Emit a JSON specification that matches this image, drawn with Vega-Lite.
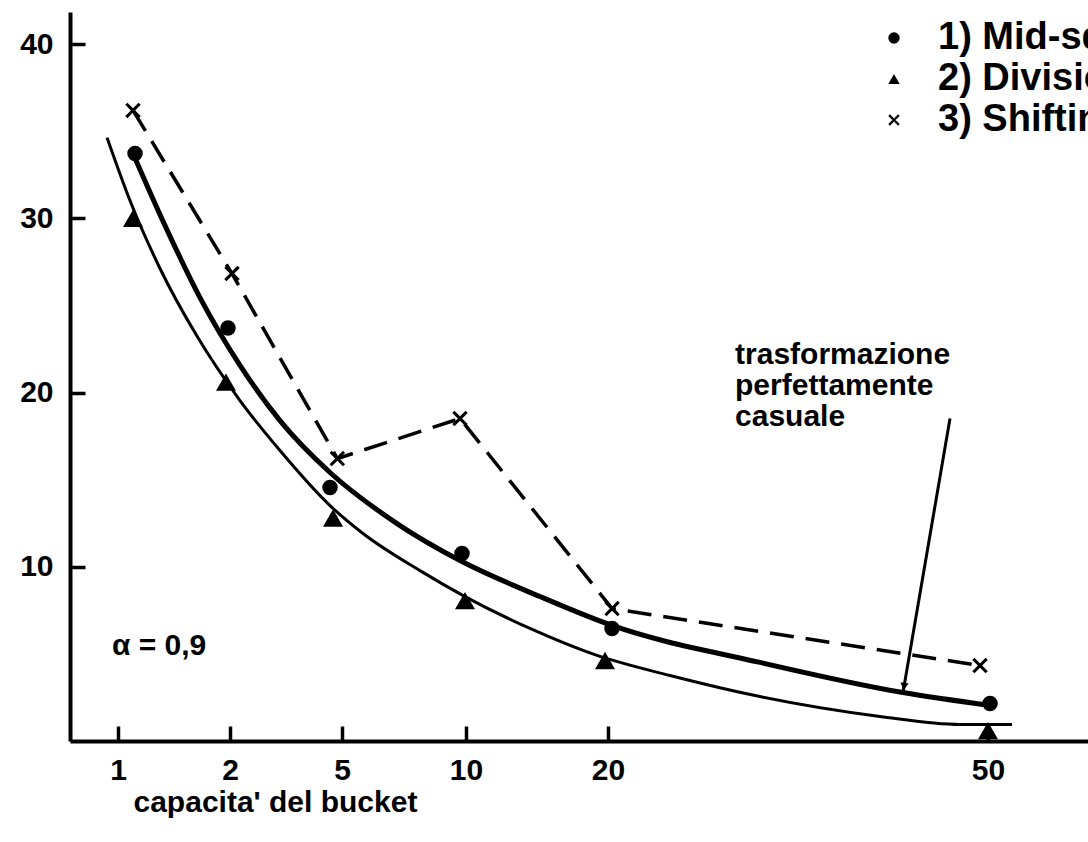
{
  "$schema": "https://vega.github.io/schema/vega-lite/v6.json",
  "autosize": {"type": "none"},
  "padding": {"left": 70, "top": 12, "right": 0, "bottom": 101},
  "width": 1018,
  "height": 729,
  "background": "white",
  "config": {
    "view": {"stroke": null},
    "font": "Liberation Sans",
    "axis": {
      "domainColor": "black", "domainWidth": 4, "tickColor": "black", "tickWidth": 3.5,
      "grid": false, "labelFont": "Liberation Sans", "labelFontWeight": "bold",
      "labelFontSize": 30, "labelColor": "black", "labelFlush": false, "labelOverlap": false
    },
    "legend": {
      "orient": "none", "legendX": 805, "legendY": 7, "padding": 0,
      "labelFont": "Liberation Sans", "labelFontWeight": "bold", "labelFontSize": 38,
      "labelColor": "black", "labelLimit": 0, "symbolSize": 130,
      "symbolFillColor": "black", "symbolStrokeColor": "black", "symbolStrokeWidth": 0,
      "rowPadding": 3, "labelOffset": 25
    }
  },
  "datasets": {
    "curves": [
      {"curve": "casuale", "x": 1.134, "v": 33.72},
      {"curve": "casuale", "x": 1.42, "v": 29.58},
      {"curve": "casuale", "x": 1.732, "v": 25.45},
      {"curve": "casuale", "x": 2.268, "v": 21.56},
      {"curve": "casuale", "x": 3.339, "v": 18.39},
      {"curve": "casuale", "x": 4.679, "v": 15.41},
      {"curve": "casuale", "x": 7.218, "v": 12.48},
      {"curve": "casuale", "x": 9.839, "v": 10.3},
      {"curve": "casuale", "x": 15.211, "v": 8.29},
      {"curve": "casuale", "x": 20.316, "v": 6.63},
      {"curve": "casuale", "x": 32.0, "v": 4.51},
      {"curve": "casuale", "x": 43.289, "v": 2.78},
      {"curve": "casuale", "x": 50.158, "v": 2.04},
      {"curve": "divisione", "x": 0.902, "v": 34.63},
      {"curve": "divisione", "x": 1.107, "v": 31.02},
      {"curve": "divisione", "x": 1.375, "v": 27.12},
      {"curve": "divisione", "x": 1.705, "v": 23.24},
      {"curve": "divisione", "x": 2.268, "v": 19.54},
      {"curve": "divisione", "x": 3.339, "v": 16.67},
      {"curve": "divisione", "x": 4.679, "v": 13.51},
      {"curve": "divisione", "x": 5.847, "v": 11.91},
      {"curve": "divisione", "x": 8.145, "v": 9.78},
      {"curve": "divisione", "x": 9.96, "v": 8.29},
      {"curve": "divisione", "x": 14.507, "v": 6.46},
      {"curve": "divisione", "x": 19.225, "v": 4.91},
      {"curve": "divisione", "x": 24.895, "v": 3.76},
      {"curve": "divisione", "x": 32.0, "v": 2.55},
      {"curve": "divisione", "x": 41.474, "v": 1.41},
      {"curve": "divisione", "x": 47.789, "v": 0.95},
      {"curve": "divisione", "x": 51.895, "v": 0.95}
    ],
    "points": [
      {"metodo": "1) Mid-square", "x": 1.152, "v": 33.72},
      {"metodo": "1) Mid-square", "x": 1.982, "v": 23.7},
      {"metodo": "1) Mid-square", "x": 4.679, "v": 14.55},
      {"metodo": "1) Mid-square", "x": 9.839, "v": 10.76},
      {"metodo": "1) Mid-square", "x": 20.32, "v": 6.46},
      {"metodo": "1) Mid-square", "x": 50.16, "v": 2.15},
      {"metodo": "2) Division", "x": 1.134, "v": 30.0},
      {"metodo": "2) Division", "x": 1.964, "v": 20.6},
      {"metodo": "2) Division", "x": 4.76, "v": 12.8},
      {"metodo": "2) Division", "x": 9.96, "v": 8.06},
      {"metodo": "2) Division", "x": 19.79, "v": 4.62},
      {"metodo": "2) Division", "x": 50.0, "v": 0.6},
      {"metodo": "3) Shifting", "x": 1.134, "v": 36.19},
      {"metodo": "3) Shifting", "x": 2.054, "v": 26.83},
      {"metodo": "3) Shifting", "x": 4.875, "v": 16.21},
      {"metodo": "3) Shifting", "x": 9.758, "v": 18.51},
      {"metodo": "3) Shifting", "x": 20.32, "v": 7.6},
      {"metodo": "3) Shifting", "x": 49.37, "v": 4.33}
    ],
    "notes": [
      {"x": 0.946, "v": 5.48, "t": "α = 0,9"},
      {"x": 30.03, "v": 22.18, "t": "trasformazione"},
      {"x": 30.03, "v": 20.4, "t": "perfettamente"},
      {"x": 30.03, "v": 18.62, "t": "casuale"}
    ],
    "arrow": [
      {"x": 47.0, "v": 18.51, "x2": 43.29, "v2": 2.78}
    ],
    "arrowhead": [
      {"x": 43.37, "v": 3.13}
    ]
  },
  "encoding": {
    "x": {
      "field": "x", "type": "quantitative",
      "scale": {
        "domain": [0.571, 1, 2, 5, 10, 20, 50, 57.89],
        "range": [0, 48, 160, 272, 396, 538, 918, 1018],
        "nice": false, "zero": false, "clamp": false
      },
      "axis": {
        "values": [1, 2, 5, 10, 20, 50], "title": "capacita' del bucket",
        "tickSize": -15, "labelPadding": 29,
        "titleFont": "Liberation Sans", "titleFontWeight": "bold", "titleFontSize": 30,
        "titleColor": "black", "titleAlign": "left", "titleAnchor": "start",
        "titleX": 63, "titleY": 70, "titleBaseline": "alphabetic"
      }
    },
    "y": {
      "field": "v", "type": "quantitative",
      "scale": {"domain": [0, 41.84], "nice": false, "zero": true},
      "axis": {"values": [10, 20, 30, 40], "title": null, "tickSize": -15, "labelPadding": 32}
    }
  },
  "layer": [
    {
      "data": {"name": "curves"},
      "transform": [{"filter": "datum.curve === 'casuale'"}],
      "mark": {"type": "line", "color": "black", "strokeWidth": 5, "interpolate": "monotone"},
      "encoding": {}
    },
    {
      "data": {"name": "curves"},
      "transform": [{"filter": "datum.curve === 'divisione'"}],
      "mark": {"type": "line", "color": "black", "strokeWidth": 3, "interpolate": "monotone"},
      "encoding": {}
    },
    {
      "data": {"name": "points"},
      "transform": [{"filter": "datum.metodo === '3) Shifting'"}],
      "mark": {"type": "line", "color": "black", "strokeWidth": 3.5, "strokeDash": [24, 12]},
      "encoding": {}
    },
    {
      "data": {"name": "points"},
      "mark": {"type": "point", "filled": true, "color": "black", "strokeWidth": 0, "opacity": 1},
      "encoding": {
        "shape": {
          "field": "metodo", "type": "nominal",
          "scale": {
            "domain": ["1) Mid-square", "2) Division", "3) Shifting"],
            "range": ["circle", "triangle-up", "M-1,-0.72L-0.72,-1L0,-0.28L0.72,-1L1,-0.72L0.28,0L1,0.72L0.72,1L0,0.28L-0.72,1L-1,0.72L-0.28,0Z"]
          },
          "legend": {"title": null}
        },
        "size": {
          "condition": {"test": "datum.metodo === '2) Division'", "value": 400},
          "value": 240
        }
      }
    },
    {
      "data": {"name": "notes"},
      "mark": {"type": "text", "align": "left", "baseline": "middle", "font": "Liberation Sans", "fontWeight": "bold", "fontSize": 30, "color": "black"},
      "encoding": {"text": {"field": "t"}}
    },
    {
      "data": {"name": "arrow"},
      "mark": {"type": "rule", "color": "black", "strokeWidth": 3},
      "encoding": {"x2": {"field": "x2"}, "y2": {"field": "v2"}}
    },
    {
      "data": {"name": "arrowhead"},
      "mark": {"type": "point", "shape": "triangle-down", "filled": true, "color": "black", "size": 70, "angle": 10, "opacity": 1},
      "encoding": {}
    }
  ]
}
